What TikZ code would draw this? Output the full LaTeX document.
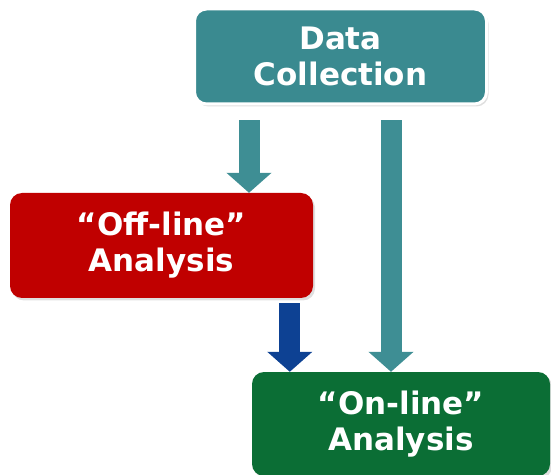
\documentclass[tikz,border=0pt]{standalone}
\usepackage{fontspec}
\setmainfont{DejaVu Sans}
\usetikzlibrary{arrows.meta,shadows,calc}
\definecolor{tealbox}{HTML}{3A8A90}
\definecolor{tealarrow}{HTML}{3E8E94}
\definecolor{redbox}{HTML}{C00000}
\definecolor{greenbox}{HTML}{0B6E35}
\definecolor{bluearrow}{HTML}{0D4193}
\tikzset{
  box/.style={rounded corners=12pt, inner sep=0pt, align=center, text=white,
    font=\bfseries\fontsize{31}{36}\selectfont},
  shad/.style={drop shadow={opacity=0.25, shadow xshift=2pt, shadow yshift=-2.5pt}},
  blockarrow/.style={line width=21pt, -{Triangle[length=20pt,width=44pt]}}
}
\begin{document}
\begin{tikzpicture}[x=1pt,y=1pt]
\useasboundingbox (0,0) rectangle (551,474);
\node[box, shad, fill=tealbox, draw=white, line width=3pt,
  minimum width=292pt, minimum height=95pt] (dc) at (340.5,417.5) {Data\\Collection};
\node[box, shad, fill=redbox, minimum width=303pt, minimum height=105pt] (off) at (161.5,228.5) {``Off-line''\\Analysis};
\node[box, shad, fill=greenbox, minimum width=298pt, minimum height=104pt] (on) at (401,50) {``On-line''\\Analysis};
\coordinate (a1) at ([xshift=56pt,yshift=-15pt]dc.south west);
\coordinate (a2) at ([xshift=198pt,yshift=-15pt]dc.south west);
\coordinate (b1) at ([xshift=280pt,yshift=-5pt]off.south west);
\draw[blockarrow, tealarrow] (a1) -- (a1 |- off.north);
\draw[blockarrow, tealarrow] (a2) -- (a2 |- on.north);
\draw[blockarrow, bluearrow] (b1) -- (b1 |- on.north);
\end{tikzpicture}
\end{document}
